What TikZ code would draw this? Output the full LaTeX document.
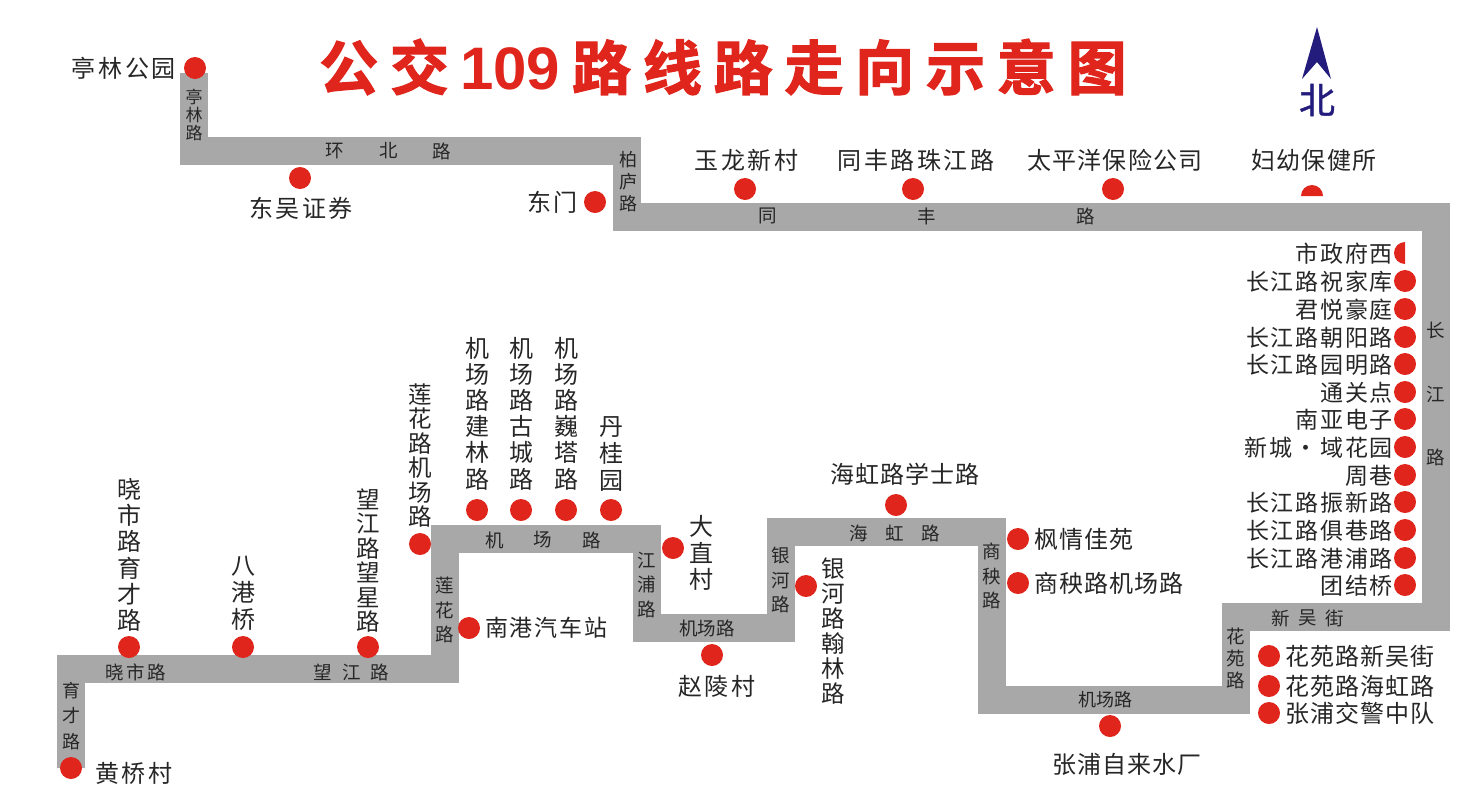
\documentclass[tikz,border=0pt]{standalone}
\usepackage{fontspec}
\newfontfamily\stn[LetterSpace=11]{Noto Sans CJK SC}
\newfontfamily\stm[LetterSpace=4.5]{Noto Sans CJK SC}
\newfontfamily\stnb[LetterSpace=7.5]{Noto Sans CJK SC}
\newfontfamily\stc[LetterSpace=5]{Noto Sans CJK SC}
\newfontfamily\rd{Noto Sans CJK SC}
\newfontfamily\rds[LetterSpace=13]{Noto Sans CJK SC}
\newfontfamily\nrth[FakeBold=1]{Noto Sans CJK SC}
\newfontfamily\ttl[LetterSpace=20,FakeBold=2]{Noto Sans CJK SC Bold}
\newfontfamily\ttd{Liberation Sans Bold}
\definecolor{routeg}{HTML}{A8A8A8}
\definecolor{dotred}{HTML}{E0261C}
\definecolor{ink}{HTML}{262626}
\definecolor{navyn}{HTML}{231C7C}
\tikzset{
  x=1pt,y=1pt,
  route/.style={draw=routeg,line width=28pt,line join=miter,line cap=butt},
  dot/.style={circle,fill=dotred,inner sep=0pt,minimum size=22pt},
  halfdot/.style={fill=dotred},
  stl/.style={text=ink,inner sep=0pt,font=\stn\fontsize{24}{26}\selectfont},
  stm/.style={text=ink,inner sep=0pt,font=\stm\fontsize{24}{26}\selectfont},
  colt/.style={text=ink,inner sep=0pt,font=\stnb\fontsize{23}{26}\selectfont,anchor=east},
  vstl/.style={text=ink,inner sep=0pt,align=center,font=\rd\fontsize{24}{26.2}\selectfont},
  vsta/.style={text=ink,inner sep=0pt,align=center,font=\rd\fontsize{24}{27}\selectfont},
  vstb/.style={text=ink,inner sep=0pt,align=center,font=\rd\fontsize{23.5}{25}\selectfont},
  vstc/.style={text=ink,inner sep=0pt,align=center,font=\rd\fontsize{23.5}{24.4}\selectfont},
  rdl/.style={text=ink,inner sep=0pt,font=\rd\fontsize{18.5}{18.5}\selectfont},
  rdw/.style={text=ink,inner sep=0pt,font=\rds\fontsize{18.5}{18.5}\selectfont},
  vrd/.style={text=ink,inner sep=0pt,align=center,font=\rd\fontsize{18.5}{24.5}\selectfont},
}
\begin{document}
\begin{tikzpicture}
\useasboundingbox (0,0) rectangle (1483,-788);
% title
\node[inner sep=0pt,text=dotred,anchor=west] (title) at (319,-67)
  {\fontsize{59}{59}\selectfont\ttl 公交{\hspace{11pt}\fontsize{60}{60}\selectfont\ttd 109\hspace{12pt}}路线路走向示意图};
% north arrow
\coordinate (ntip) at (1317,-27);
\coordinate (nl) at (1302,-79);
\coordinate (nn) at (1317,-62);
\coordinate (nr) at (1331,-79);
\fill[navyn] (ntip) -- (nr) -- (nn) -- (nl) -- cycle;
\node[inner sep=0pt,text=navyn,font=\nrth\fontsize{36}{36}\selectfont] (north) at (1317,-100) {北};
% route bends
\coordinate (r1) at (71,-768);
\coordinate (r2) at (71,-669);
\coordinate (r3) at (445,-669);
\coordinate (r4) at (445,-539);
\coordinate (r5) at (647,-539);
\coordinate (r6) at (647,-628);
\coordinate (r7) at (781,-628);
\coordinate (r8) at (781,-532);
\coordinate (r9) at (992,-532);
\coordinate (r10) at (992,-700);
\coordinate (r11) at (1236,-700);
\coordinate (r12) at (1236,-617);
\coordinate (r13) at (1436,-617);
\coordinate (r14) at (1436,-217);
\coordinate (r15) at (627,-217);
\coordinate (r16) at (627,-151);
\coordinate (r17) at (194,-151);
\coordinate (r18) at (194,-73);
\draw[route] (r1) -- (r2) -- (r3) -- (r4) -- (r5) -- (r6) -- (r7) -- (r8) -- (r9) -- (r10) -- (r11) -- (r12) -- (r13) -- (r14) -- (r15) -- (r16) -- (r17) -- (r18);
% road labels
\node[vrd,font=\rd\fontsize{17}{18}\selectfont] (ra) at (194,-115) {亭\\林\\路};
\node[rdl] (rb1) at (335,-151) {环};
\node[rdl] (rb2) at (389,-151) {北};
\node[rdl] (rb3) at (442,-151) {路};
\node[vrd,font=\rd\fontsize{18}{22}\selectfont] (rc) at (628,-182) {柏\\庐\\路};
\node[rdl] (rd1) at (768,-216) {同};
\node[rdl] (rd2) at (927,-216) {丰};
\node[rdl] (rd3) at (1086,-216) {路};
\node[rdl] (re1) at (1436,-330) {长};
\node[rdl] (re2) at (1436,-394) {江};
\node[rdl] (re3) at (1436,-457) {路};
\node[rdl] (rf1) at (1281,-618) {新};
\node[rdl] (rf2) at (1308,-618) {吴};
\node[rdl] (rf3) at (1335,-618) {街};
\node[vrd,font=\rd\fontsize{18.5}{22}\selectfont] (rg) at (1236,-658) {花\\苑\\路};
\node[rdl,font=\rd\fontsize{18}{18}\selectfont] (rh) at (1105,-700) {机场路};
\node[vrd] (ri) at (992,-576) {商\\秧\\路};
\node[rdl] (rj1) at (859,-533) {海};
\node[rdl] (rj2) at (895,-533) {虹};
\node[rdl] (rj3) at (931,-533) {路};
\node[vrd] (rk) at (781,-580) {银\\河\\路};
\node[rdl,font=\rd\fontsize{18.5}{18}\selectfont] (rl) at (707,-628) {机场路};
\node[vrd] (rm) at (647,-585) {江\\浦\\路};
\node[rdl] (rn1) at (495,-540) {机};
\node[rdl] (rn2) at (543,-540) {场};
\node[rdl] (rn3) at (592,-540) {路};
\node[vrd] (ro) at (445,-610) {莲\\花\\路};
\node[rdl] (rp1) at (323,-672) {望};
\node[rdl] (rp2) at (352,-672) {江};
\node[rdl] (rp3) at (380,-672) {路};
\node[rdw] (rq) at (136,-672) {晓市路};
\node[vrd,font=\rd\fontsize{18}{25.5}\selectfont] (rr) at (71,-716) {育\\才\\路};
% top stations
\node[dot] (d1) at (195,-68) {};
\node[stl,anchor=east] (t1) at (176,-68) {亭林公园};
\node[dot] (d2) at (300,-178) {};
\node[stl] (t2) at (301,-208) {东吴证券};
\node[dot] (d3) at (595,-202) {};
\node[stl,anchor=east] (t3) at (578,-202) {东门};
\node[dot] (d4) at (745,-189) {};
\node[stl] (t4) at (746.5,-160) {玉龙新村};
\node[dot] (d5) at (913,-189) {};
\node[stl] (t5) at (916,-160) {同丰路珠江路};
\node[dot] (d6) at (1113,-189) {};
\node[stm] (t6) at (1115,-160) {太平洋保险公司};
\coordinate (d7) at (1312,-196);
\fill[halfdot] (d7) ++(-11,0) arc[start angle=180,end angle=0,radius=11] -- cycle;
\node[stm] (t7) at (1314,-160) {妇幼保健所};
% right column
\coordinate (d8) at (1405,-253);
\fill[halfdot] (d8) ++(0,11) arc[start angle=90,end angle=270,radius=11] -- cycle;
\node[colt] (t8) at (1393,-254) {市政府西};
\node[dot] (d9) at (1405,-281) {};
\node[colt] (t9) at (1393,-282) {长江路祝家库};
\node[dot] (d10) at (1405,-309) {};
\node[colt] (t10) at (1393,-310) {君悦豪庭};
\node[dot] (d11) at (1405,-337) {};
\node[colt] (t11) at (1393,-338) {长江路朝阳路};
\node[dot] (d12) at (1405,-364) {};
\node[colt] (t12) at (1393,-365) {长江路园明路};
\node[dot] (d13) at (1405,-392) {};
\node[colt] (t13) at (1393,-393) {通关点};
\node[dot] (d14) at (1405,-419) {};
\node[colt] (t14) at (1393,-420) {南亚电子};
\node[dot] (d15) at (1405,-447) {};
\node[colt] (t15) at (1393,-448) {\spaceskip=2.5pt 新城 · 域花园};
\node[dot] (d16) at (1405,-475) {};
\node[colt] (t16) at (1393,-476) {周巷};
\node[dot] (d17) at (1405,-502) {};
\node[colt] (t17) at (1393,-503) {长江路振新路};
\node[dot] (d18) at (1405,-530) {};
\node[colt] (t18) at (1393,-531) {长江路俱巷路};
\node[dot] (d19) at (1405,-558) {};
\node[colt] (t19) at (1393,-559) {长江路港浦路};
\node[dot] (d20) at (1405,-585) {};
\node[colt] (t20) at (1393,-586) {团结桥};
% lower right
\node[dot] (d21) at (1269,-656) {};
\node[stm,anchor=west] (t21) at (1285,-656) {花苑路新吴街};
\node[dot] (d22) at (1269,-686) {};
\node[stm,anchor=west] (t22) at (1285,-686) {花苑路海虹路};
\node[dot] (d23) at (1269,-713) {};
\node[stm,anchor=west] (t23) at (1285,-713) {张浦交警中队};
\node[dot] (d24) at (1110,-726) {};
\node[stm] (t24) at (1127,-764) {张浦自来水厂};
\node[dot] (d25) at (1018,-539) {};
\node[stm,anchor=west] (t25) at (1034,-539) {枫情佳苑};
\node[dot] (d26) at (1018,-583) {};
\node[stm,anchor=west] (t26) at (1034,-583) {商秧路机场路};
\node[dot] (d27) at (896,-505) {};
\node[stm] (t27) at (905,-474) {海虹路学士路};
\node[dot] (d28) at (806,-586) {};
\node[vstb] (t28) at (833,-631.5) {银\\河\\路\\翰\\林\\路};
\node[dot] (d29) at (712,-655) {};
\node[stl] (t29) at (717,-686) {赵陵村};
\node[dot] (d30) at (673,-548) {};
\node[vstl] (t30) at (701,-553) {大\\直\\村};
% airport road group
\node[dot] (d31) at (611,-510) {};
\node[vsta] (t31) at (611,-453.5) {丹\\桂\\园};
\node[dot] (d32) at (566,-510) {};
\node[vstl] (t32) at (566,-413.5) {机\\场\\路\\巍\\塔\\路};
\node[dot] (d33) at (521,-510) {};
\node[vstl] (t33) at (521,-413.5) {机\\场\\路\\古\\城\\路};
\node[dot] (d34) at (477,-510) {};
\node[vstl] (t34) at (477,-413.5) {机\\场\\路\\建\\林\\路};
\node[dot] (d35) at (420,-544) {};
\node[vstc] (t35) at (420,-455.5) {莲\\花\\路\\机\\场\\路};
\node[dot] (d36) at (469,-628) {};
\node[colt,anchor=west] (t36) at (485,-628) {南港汽车站};
% lower left
\node[dot] (d37) at (368,-647) {};
\node[vstc] (t37) at (368,-560.5) {望\\江\\路\\望\\星\\路};
\node[dot] (d38) at (243,-647) {};
\node[vsta] (t38) at (243,-593) {八\\港\\桥};
\node[dot] (d39) at (129,-647) {};
\node[vstl] (t39) at (129,-555) {晓\\市\\路\\育\\才\\路};
\node[dot] (d40) at (71,-768) {};
\node[stl,anchor=west] (t40) at (95,-773) {黄桥村};
\end{tikzpicture}
\end{document}
